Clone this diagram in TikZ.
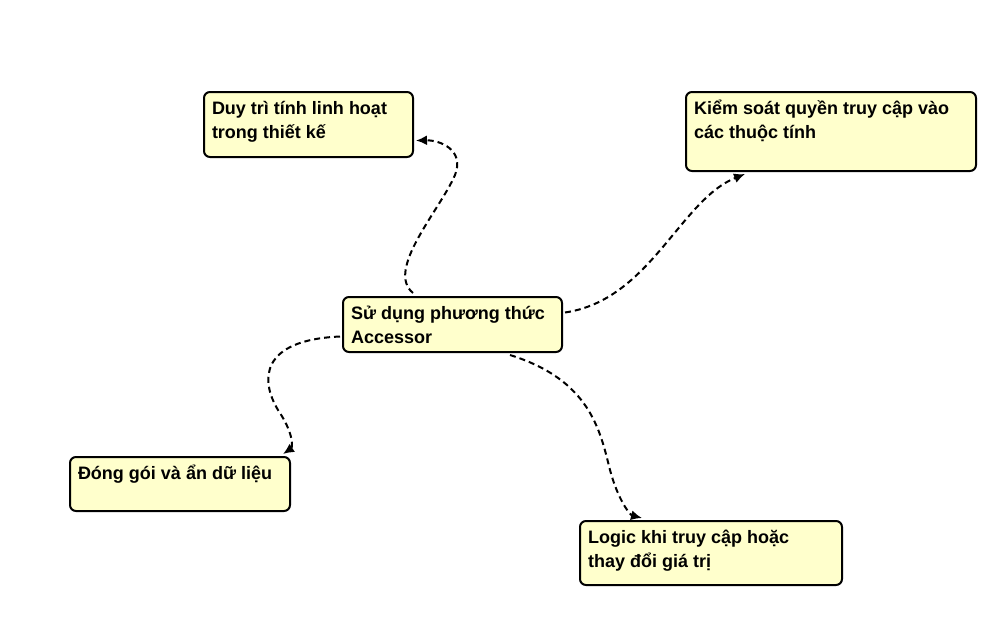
\documentclass[tikz,border=0pt]{standalone}
\usepackage{fontspec}
\setmainfont{Liberation Sans}
\usetikzlibrary{arrows.meta,calc}
\definecolor{notefill}{RGB}{255,255,204}
\newcommand{\notetext}[3]{\parbox[c][#2][t]{#1}{\raggedright\leftskip=8pt\fontsize{18}{24}\selectfont\bfseries\rule{0pt}{22pt}#3}}

\begin{document}
\begin{tikzpicture}[x=1pt,y=-1pt,
    note/.style={draw, fill=notefill, line width=2pt, rounded corners=6pt, inner sep=0pt, anchor=north west},
    link/.style={dash pattern=on 6pt off 4pt, line width=2pt, -{Latex[length=11pt,width=10pt]}}]
    \useasboundingbox (0,0) rectangle (1008,640);
    \node[note] (accessor) at (342,296) {\notetext{219pt}{55pt}{Sử dụng phương thức\\Accessor}};
    \node[note] (flex) at (203,91) {\notetext{209pt}{65pt}{Duy trì tính linh hoạt\\trong thiết kế}};
    \node[note] (control) at (685,91) {\notetext{290pt}{79pt}{Kiểm soát quyền truy cập vào\\các thuộc tính}};
    \node[note] (encap) at (69,456) {\notetext{220pt}{54pt}{Đóng gói và ẩn dữ liệu}};
    \node[note] (logic) at (579,520) {\notetext{262pt}{64pt}{Logic khi truy cập hoặc\\thay đổi giá trị}};
    \draw[link] ($(accessor.north west)+(71,-3)$) .. controls (385,270) and (440,210) .. (455,175)
        .. controls (465,150) and (440,140) .. ($(flex.east)+(2,16)$);
    \draw[link] ($(accessor.east)+(2,-12)$) .. controls (650,300) and (680,200) .. ($(control.south west)+(60,2)$);
    \draw[link] ($(accessor.west)+(-2,12)$) .. controls (260,340) and (260,380) .. (278,410)
        .. controls (295,435) and (292,448) .. ($(encap.north east)+(-8,-2)$);
    \draw[link] ($(accessor.south west)+(168,2)$) .. controls (590,380) and (600,430) .. (610,470)
        .. controls (618,500) and (630,515) .. ($(logic.north west)+(63,-2)$);
\end{tikzpicture}
\end{document}
